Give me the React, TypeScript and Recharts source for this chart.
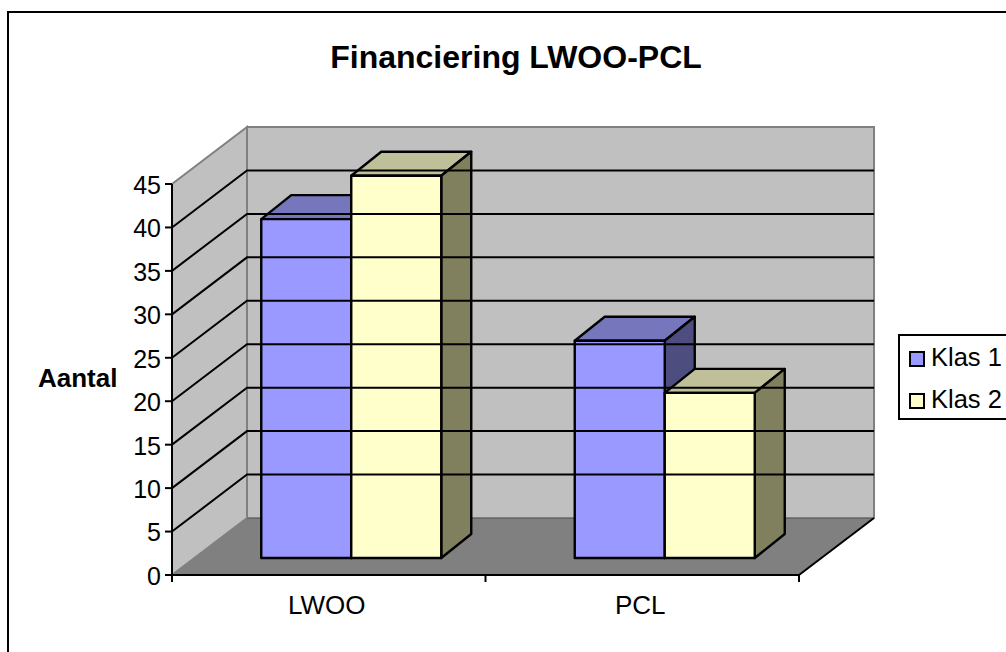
import React from "react";
import { BarChart, Bar, XAxis, YAxis, Legend, ReferenceArea, ReferenceLine } from "recharts";

const categories = ["LWOO", "PCL"];
const klas1 = [39, 25];
const klas2 = [44, 19];
const yTicks = [0, 5, 10, 15, 20, 25, 30, 35, 40, 45];
const seriesNames = ["Klas 1", "Klas 2"];
const titleText = "Financiering LWOO-PCL";
const yLabel = "Aantal";

const data = categories.map((name, i) => ({ name, a: klas1[i], b: klas2[i] }));

const FONT = "'Liberation Sans', Arial, sans-serif";
const WALL_DX = 75;
const WALL_DY = 57;
const BAR_SHIFT_X = 22.5;
const BAR_SHIFT_Y = 17;
const BAR_DX = 30;
const BAR_DY = 24;
const WALL = "#C0C0C0";
const FLOOR = "#808080";

const pts = (list: number[][]) => list.map((p) => p.join(",")).join(" ");

const bar3d = (top: string, side: string) => (props: any) => {
  const { x, y, width, height, fill } = props;
  const l = x + BAR_SHIFT_X;
  const r = l + width;
  const t = y - BAR_SHIFT_Y;
  const b = t + height;
  const common = { stroke: "#000", strokeWidth: 2.4, strokeLinejoin: "round" as const };
  return (
    <g>
      <polygon points={pts([[l, t], [l + BAR_DX, t - BAR_DY], [r + BAR_DX, t - BAR_DY], [r, t]])} fill={top} {...common} />
      <polygon points={pts([[r, t], [r + BAR_DX, t - BAR_DY], [r + BAR_DX, b - BAR_DY], [r, b]])} fill={side} {...common} />
      <rect x={l} y={t} width={width} height={height} fill={fill} {...common} />
    </g>
  );
};

const Walls = (props: any) => {
  const { x, y, width, height } = props;
  const b = y + height;
  const r = x + width;
  return (
    <g>
      <polygon points={pts([[x, b], [x + WALL_DX, b - WALL_DY], [r + WALL_DX, b - WALL_DY], [r, b]])} fill={FLOOR} stroke="none" />
      <polygon points={pts([[x, y], [x + WALL_DX, y - WALL_DY], [x + WALL_DX, b - WALL_DY], [x, b]])} fill={WALL} stroke={FLOOR} strokeWidth={2} />
      <rect x={x + WALL_DX} y={y - WALL_DY} width={width} height={height} fill={WALL} stroke={FLOOR} strokeWidth={2} />
      <line x1={x + WALL_DX} y1={b - WALL_DY + 0.5} x2={r + WALL_DX} y2={b - WALL_DY + 0.5} stroke="#666" strokeWidth={1} />
      <line x1={r} y1={b} x2={r + WALL_DX} y2={b - WALL_DY} stroke="#000" strokeWidth={2} />
    </g>
  );
};

const gridLine = (props: any) => {
  const { x1, x2, y1 } = props;
  return (
    <polyline
      points={pts([[x1, y1], [x1 + WALL_DX, y1 - WALL_DY], [x2 + WALL_DX, y1 - WALL_DY]])}
      fill="none"
      stroke="#000"
      strokeWidth={2}
    />
  );
};

const CategoryTick = (props: any) => {
  const { x, y, payload, index } = props;
  const half = payload.offset ?? 156.75;
  return (
    <g>
      {index === 0 && <line x1={x - half} x2={x - half} y1={y - 8} y2={y - 1} stroke="#000" strokeWidth={2} />}
      <line x1={x + half} x2={x + half} y1={y - 8} y2={y - 1} stroke="#000" strokeWidth={2} />
      <text x={x - 2} y={y + 31} textAnchor="middle" fontSize={26} fontFamily={FONT} fill="#000">
        {payload.value}
      </text>
    </g>
  );
};

const LegendBox = (props: any) => (
  <div style={{ border: "2px solid #000", background: "#fff", width: 130, height: 86, boxSizing: "border-box", fontFamily: FONT, fontSize: 25.5, color: "#000", position: "relative" }}>
    {(props.payload || []).map((e: any, i: number) => (
      <div key={e.value} style={{ position: "absolute", left: 31, top: 7 + i * 42, lineHeight: "29px", whiteSpace: "nowrap" }}>
        <span style={{ position: "absolute", left: -22, top: 8, width: 12, height: 12, border: "2px solid #000", background: e.color, boxSizing: "content-box" }} />
        {e.value}
      </div>
    ))}
  </div>
);

export default function App() {
  return (
    <div style={{ position: "absolute", left: 0, top: 0, width: 1006, height: 652, overflow: "hidden", background: "#fff" }}>
      <div style={{ position: "absolute", left: 7, top: 11, width: 1100, height: 800, border: "2px solid #000" }} />
      <div style={{ position: "absolute", left: 216, top: 38, width: 600, textAlign: "center", fontFamily: FONT, fontWeight: "bold", fontSize: 32, lineHeight: "38px", color: "#000" }}>
        {titleText}
      </div>
      <BarChart
        width={1006}
        height={652}
        data={data}
        margin={{ top: 184, right: 207, bottom: 47, left: 112 }}
        barCategoryGap={66.75}
        barGap={0}
        style={{ position: "absolute", left: 0, top: 0, overflow: "visible" }}
      >
        <ReferenceArea y1={0} y2={45} shape={Walls} ifOverflow="visible" />
        {yTicks.slice(1, -1).map((v) => (
          <ReferenceLine key={v} y={v} shape={gridLine} ifOverflow="visible" />
        ))}
        <XAxis
          dataKey="name"
          height={30}
          axisLine={{ stroke: "#000", strokeWidth: 2 }}
          tickLine={false}
          tick={CategoryTick}
          interval={0}
        />
        <YAxis
          width={60}
          domain={[0, 45]}
          ticks={yTicks}
          interval={0}
          tickSize={7}
          tickMargin={4}
          axisLine={{ stroke: "#000", strokeWidth: 2 }}
          tickLine={{ stroke: "#000", strokeWidth: 2 }}
          tick={{ fontSize: 25, fontFamily: FONT, fill: "#000", dy: 1 }}
          label={{ value: yLabel, position: "insideLeft", dx: -79, dy: -2, fontSize: 26, fontWeight: "bold", fontFamily: FONT, fill: "#000" }}
        />
        <Bar dataKey="a" name={seriesNames[0]} fill="#9999FF" isAnimationActive={false} shape={bar3d("#7676BD", "#4D4D80")} />
        <Bar dataKey="b" name={seriesNames[1]} fill="#FFFFCC" isAnimationActive={false} shape={bar3d("#BFBF99", "#80805F")} />
        <Legend
          layout="vertical"
          align="center"
          verticalAlign="middle"
          content={LegendBox}
          wrapperStyle={{ position: "absolute", left: 898, top: 334, width: 130, height: 86 }}
        />
      </BarChart>
    </div>
  );
}
